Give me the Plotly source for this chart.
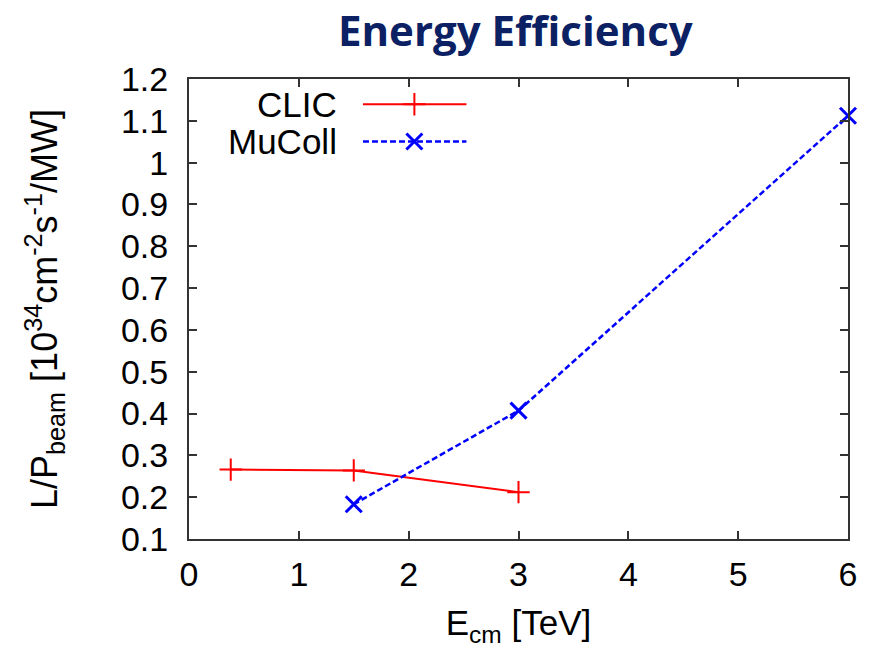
import plotly.graph_objects as go

# ---- data ----
clic_energy = [0.38, 1.5, 3.0]
clic_eff = [0.266, 0.264, 0.212]
mucoll_energy = [1.5, 3.0, 6.0]
mucoll_eff = [0.183, 0.407, 1.112]
y_tick_vals = [0.1, 0.2, 0.3, 0.4, 0.5, 0.6, 0.7, 0.8, 0.9, 1.0, 1.1, 1.2]
y_tick_text = ["0.1", "0.2", "0.3", "0.4", "0.5", "0.6", "0.7", "0.8", "0.9", "1", "1.1", "1.2"]
x_tick_vals = [0, 1, 2, 3, 4, 5, 6]

RED = "#FF0000"
BLUE = "#0000FF"
AXIS = "#333333"
FONT = "Liberation Sans, Arial, sans-serif"
BLUE_DASH = "6px,3px"

fig = go.Figure()
fig.add_trace(go.Scatter(
    x=clic_energy, y=clic_eff, mode="lines+markers", name="CLIC",
    line=dict(color=RED, width=2),
    marker=dict(symbol="cross-thin-open", size=16, color=RED, line=dict(color=RED, width=2)),
    showlegend=False, cliponaxis=False))
fig.add_trace(go.Scatter(
    x=mucoll_energy, y=mucoll_eff, mode="lines+markers", name="MuColl",
    line=dict(color=BLUE, width=2.5, dash=BLUE_DASH),
    marker=dict(symbol="x-thin-open", size=16, color=BLUE, line=dict(color=BLUE, width=3)),
    showlegend=False, cliponaxis=False))

# legend samples on an overlay axis (0..1 in plot-area units)
leg_x0, leg_x1, leg_xm = 0.264, 0.421, 0.342
leg_y = [0.945, 0.864]
fig.add_trace(go.Scatter(
    x=[leg_x0, leg_x1], y=[leg_y[0], leg_y[0]], mode="lines", xaxis="x2", yaxis="y2",
    line=dict(color=RED, width=2), showlegend=False, hoverinfo="skip"))
fig.add_trace(go.Scatter(
    x=[leg_xm], y=[leg_y[0]], mode="markers", xaxis="x2", yaxis="y2",
    marker=dict(symbol="cross-thin-open", size=16, color=RED, line=dict(color=RED, width=2)),
    showlegend=False, hoverinfo="skip"))
fig.add_trace(go.Scatter(
    x=[leg_x0, leg_x1], y=[leg_y[1], leg_y[1]], mode="lines", xaxis="x2", yaxis="y2",
    line=dict(color=BLUE, width=2.5, dash=BLUE_DASH), showlegend=False, hoverinfo="skip"))
fig.add_trace(go.Scatter(
    x=[leg_xm], y=[leg_y[1]], mode="markers", xaxis="x2", yaxis="y2",
    marker=dict(symbol="x-thin-open", size=16, color=BLUE, line=dict(color=BLUE, width=3)),
    showlegend=False, hoverinfo="skip"))

for label, yy in zip(["CLIC", "MuColl"], leg_y):
    fig.add_annotation(x=0.228, y=yy, xref="x2", yref="y2", text=label, showarrow=False,
                       xanchor="right", yanchor="middle",
                       font=dict(family=FONT, size=35, color="black"))

fig.update_layout(
    width=869, height=650,
    margin=dict(l=189, r=17, t=79, b=111),
    paper_bgcolor="white", plot_bgcolor="white",
    font=dict(family=FONT, size=34, color="black"),
    title=dict(text="<b>Energy Efficiency</b>", x=0.593, xanchor="center", y=0.952, yanchor="middle",
               font=dict(family="Open Sans, Lato, sans-serif", size=42, color="#0B2163")),
    xaxis=dict(range=[0, 6], tickvals=x_tick_vals, ticks="inside", ticklen=8, tickwidth=1.5,
               tickcolor=AXIS, showline=True, linecolor=AXIS, linewidth=2, mirror="allticks",
               showgrid=False, zeroline=False, ticklabelstandoff=4,
               tickfont=dict(family=FONT, size=34),
               title=dict(text="E<sub>cm</sub> [TeV]", standoff=19, font=dict(family=FONT, size=35))),
    yaxis=dict(range=[0.1, 1.2], tickvals=y_tick_vals, ticktext=y_tick_text, ticks="inside",
               ticklen=8, tickwidth=1.5, tickcolor=AXIS, showline=True, linecolor=AXIS, linewidth=2,
               mirror="allticks", showgrid=False, zeroline=False, ticklabelstandoff=12,
               tickfont=dict(family=FONT, size=34),
               title=dict(text="L/P<sub>beam</sub> [10<sup>34</sup>cm<sup>-2</sup>s<sup>-1</sup>/MW]",
                          standoff=52, font=dict(family=FONT, size=36))),
    xaxis2=dict(overlaying="x", range=[0, 1], visible=False, fixedrange=True),
    yaxis2=dict(overlaying="y", range=[0, 1], visible=False, fixedrange=True),
)

fig.write_html("out.html")
